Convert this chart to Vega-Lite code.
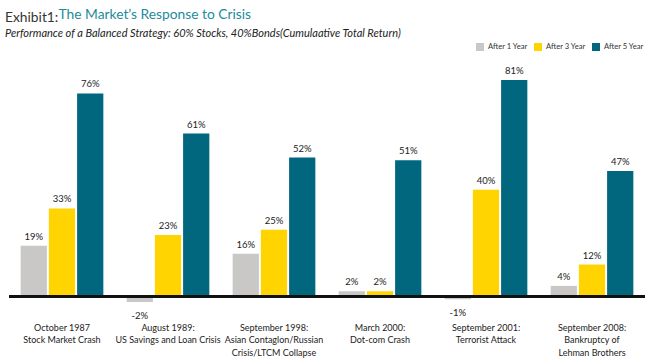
{
  "$schema": "https://vega.github.io/schema/vega-lite/v6.json",
  "width": 636,
  "height": 262,
  "autosize": "none",
  "padding": {"left": 9, "top": 56, "right": 5, "bottom": 40},
  "background": "white",
  "config": {"view": {"stroke": null}, "font": "Lato"},
  "title": {
    "text": "Exhibit1:",
    "subtitle": "Performance of a Balanced Strategy: 60% Stocks, 40%Bonds(Cumulaative Total Return)",
    "anchor": "start",
    "frame": "group",
    "font": "Lato",
    "fontSize": 13.8,
    "fontWeight": "normal",
    "color": "#333333",
    "subtitleFont": "Lato",
    "subtitleFontStyle": "italic",
    "subtitleFontSize": 11,
    "subtitleColor": "#222222",
    "subtitlePadding": 3,
    "dx": -4,
    "dy": 32,
    "offset": 0
  },
  "data": {
    "values": [
      {"event": "October 1987|Stock Market Crash", "period": "After 1 Year", "value": 19},
      {"event": "October 1987|Stock Market Crash", "period": "After 3 Year", "value": 33},
      {"event": "October 1987|Stock Market Crash", "period": "After 5 Year", "value": 76},
      {"event": "August 1989:|US Savings and Loan Crisis", "period": "After 1 Year", "value": -2},
      {"event": "August 1989:|US Savings and Loan Crisis", "period": "After 3 Year", "value": 23},
      {"event": "August 1989:|US Savings and Loan Crisis", "period": "After 5 Year", "value": 61},
      {"event": "September 1998:|Asian Contaglon/Russian|Crisis/LTCM Collapse", "period": "After 1 Year", "value": 16},
      {"event": "September 1998:|Asian Contaglon/Russian|Crisis/LTCM Collapse", "period": "After 3 Year", "value": 25},
      {"event": "September 1998:|Asian Contaglon/Russian|Crisis/LTCM Collapse", "period": "After 5 Year", "value": 52},
      {"event": "March 2000:|Dot-com Crash", "period": "After 1 Year", "value": 2},
      {"event": "March 2000:|Dot-com Crash", "period": "After 3 Year", "value": 2},
      {"event": "March 2000:|Dot-com Crash", "period": "After 5 Year", "value": 51},
      {"event": "September 2001:|Terrorist Attack", "period": "After 1 Year", "value": -1},
      {"event": "September 2001:|Terrorist Attack", "period": "After 3 Year", "value": 40},
      {"event": "September 2001:|Terrorist Attack", "period": "After 5 Year", "value": 81},
      {"event": "September 2008:|Bankruptcy of|Lehman Brothers", "period": "After 1 Year", "value": 4},
      {"event": "September 2008:|Bankruptcy of|Lehman Brothers", "period": "After 3 Year", "value": 12},
      {"event": "September 2008:|Bankruptcy of|Lehman Brothers", "period": "After 5 Year", "value": 47}
    ]
  },
  "transform": [{"calculate": "datum.value + '%'", "as": "label"}],
  "layer": [
    {
      "mark": {"type": "bar"},
      "encoding": {
        "x": {
          "field": "event", "type": "nominal", "sort": null,
          "scale": {"paddingInner": 0.22, "paddingOuter": 0.11},
          "axis": {
            "title": null, "domain": false, "ticks": false, "labelAngle": 0,
            "labelExpr": "split(datum.label, '|')",
            "labelFontSize": 9, "labelLineHeight": 12.5, "labelPadding": 5,
            "labelColor": "#222222", "labelFont": "Lato"
          }
        },
        "xOffset": {"field": "period", "type": "nominal", "scale": {"paddingInner": 0.07, "paddingOuter": 0}},
        "y": {
          "field": "value", "type": "quantitative",
          "scale": {"domain": [-8, 90], "nice": false},
          "axis": {
            "domain": false, "ticks": false, "labels": false, "grid": false,
            "title": "The Market’s Response to Crisis",
            "titleAngle": 0, "titleX": 49, "titleY": -38,
            "titleAlign": "left", "titleBaseline": "alphabetic",
            "titleFont": "Lato", "titleFontSize": 13.8, "titleFontWeight": "normal",
            "titleColor": "#1d8b9b"
          }
        },
        "color": {
          "field": "period", "type": "nominal",
          "scale": {"domain": ["After 1 Year", "After 3 Year", "After 5 Year"], "range": ["#c9c8c6", "#ffd400", "#00677f"]},
          "legend": {
            "title": null, "orient": "none", "direction": "horizontal",
            "legendX": 467, "legendY": -13, "symbolType": "square", "symbolSize": 64,
            "symbolStrokeWidth": 0, "labelFontSize": 7.6, "labelColor": "#333333",
            "columnPadding": 6, "labelFont": "Lato"
          }
        }
      }
    },
    {
      "transform": [{"filter": "datum.value >= 0"}],
      "mark": {"type": "text", "baseline": "bottom", "dy": -4, "fontSize": 9.5, "color": "#222222"},
      "encoding": {
        "x": {"field": "event", "type": "nominal", "sort": null},
        "xOffset": {"field": "period", "type": "nominal"},
        "y": {"field": "value", "type": "quantitative"},
        "text": {"field": "label"}
      }
    },
    {
      "transform": [{"filter": "datum.value < 0"}],
      "mark": {"type": "text", "baseline": "top", "dy": 9, "fontSize": 9.5, "color": "#222222"},
      "encoding": {
        "x": {"field": "event", "type": "nominal", "sort": null},
        "xOffset": {"field": "period", "type": "nominal"},
        "y": {"field": "value", "type": "quantitative"},
        "text": {"field": "label"}
      }
    },
    {
      "mark": {"type": "rule", "color": "#111111", "strokeWidth": 2},
      "encoding": {"y": {"datum": 0, "type": "quantitative"}}
    }
  ]
}
